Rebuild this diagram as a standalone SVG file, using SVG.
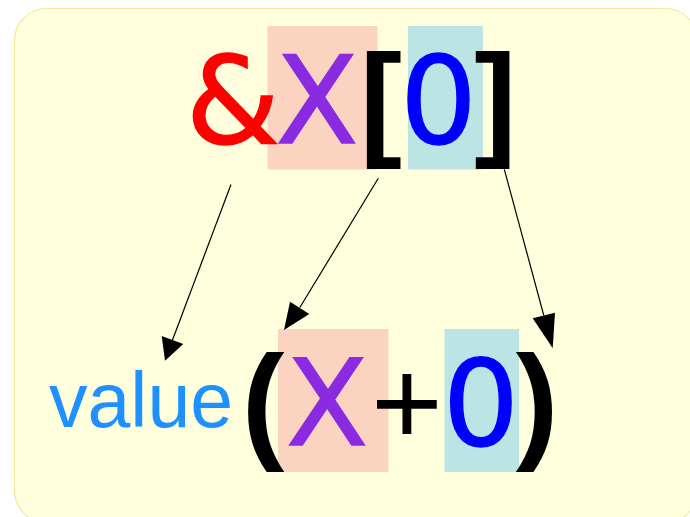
<svg xmlns="http://www.w3.org/2000/svg" width="690" height="517" viewBox="0 0 690 517">
  <style>
    .t { font-family: "Liberation Sans", Arial, sans-serif; text-anchor: middle; }
    .d { font-family: "DejaVu Sans", Verdana, sans-serif; text-anchor: middle; stroke-width: 1.4; }
    .b { font-weight: bold; fill: #000000; }
    .x { fill: #8a2be2; stroke: #8a2be2; }
    .z { fill: #0000ff; stroke: #0000ff; }
    .amp { fill: #ff0000; stroke: #ff0000; }
    .pink { fill: #fbd3c1; }
    .cyan { fill: #bce4e5; }
    .edge { stroke: #000000; stroke-width: 1.2; fill: none; }
    .head { fill: #000000; stroke: none; }
  </style>
  <rect id="background" x="14.5" y="8.5" width="683" height="514" rx="32" ry="32" fill="#ffffde" stroke="#f3e99a" stroke-width="1.2"/>

  <g id="top-expression">
    <rect class="pink" x="267.5" y="26" width="110" height="143.5"/>
    <rect class="cyan" x="408" y="26" width="75" height="143.5"/>
    <g id="amp"><text class="d amp" x="233" y="143" font-size="121">&amp;</text></g>
    <g id="x-top"><text class="d x" x="317" y="143" font-size="121">X</text></g>
    <g id="lbracket"><text class="t b" x="381" y="143" font-size="127">[</text></g>
    <g id="zero-top"><text class="d z" x="438.5" y="143" font-size="121">0</text></g>
    <g id="rbracket"><text class="t b" x="495.5" y="143" font-size="127">]</text></g>
  </g>

  <g id="value-node">
    <text class="t" x="141" y="427" font-size="77" fill="#1e90ff">value</text>
  </g>

  <g id="bottom-expression">
    <rect class="pink" x="278" y="329" width="110.5" height="143"/>
    <rect class="cyan" x="444.5" y="329" width="74.5" height="143"/>
    <g id="lparen"><text class="t b" x="263" y="445" font-size="128">(</text></g>
    <g id="x-bottom"><text class="d x" x="327" y="445" font-size="120">X</text></g>
    <g id="plus"><text class="t" x="407" y="445" font-size="123" fill="#000000">+</text></g>
    <g id="zero-bottom"><text class="d z" x="481" y="445" font-size="120">0</text></g>
    <g id="rparen"><text class="t b" x="537" y="445" font-size="128">)</text></g>
  </g>

  <g id="connectors">
    <line class="edge" x1="231" y1="184.5" x2="172.5" y2="340"/>
    <polygon class="head" points="161.7,336 183.3,344 165,360.7"/>
    <line class="edge" x1="378.3" y1="178.3" x2="299.7" y2="307.8"/>
    <polygon class="head" points="290,301.7 309.3,314 284,330"/>
    <line class="edge" x1="504.3" y1="169.3" x2="543.8" y2="315.5"/>
    <polygon class="head" points="532.7,318.3 555,312.7 552.7,348.3"/>
  </g>
</svg>
